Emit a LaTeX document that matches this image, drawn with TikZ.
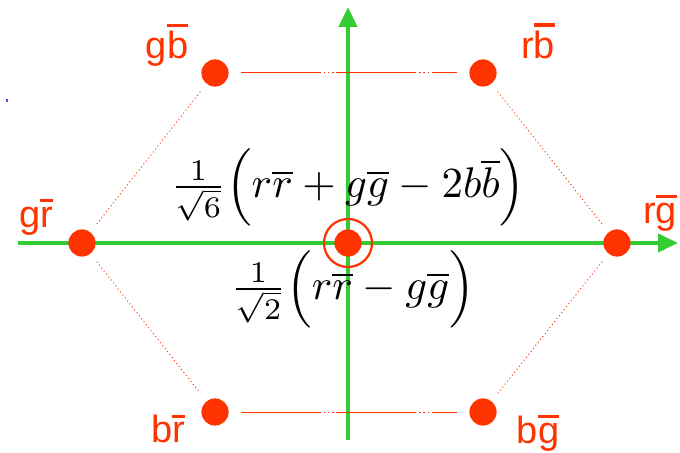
\documentclass[tikz,border=0pt]{standalone}
\usepackage{amsmath}
\usepackage{fontspec}
\setmainfont{Liberation Sans}
\usetikzlibrary{arrows.meta,calc,positioning}
\definecolor{quarkred}{RGB}{255,51,0}
\definecolor{axisgreen}{RGB}{51,204,51}
\newcommand{\ab}[1]{\vbox{\hrule height 2.4pt\kern 3pt\hbox{#1}}}

\begin{document}
\begin{tikzpicture}[
  dot/.style={circle, fill=quarkred, inner sep=0pt, minimum width=0.68cm, minimum height=0.52cm},
  lbl/.style={text=quarkred, font=\fontsize{27}{30}\selectfont, inner sep=0pt},
  axis/.style={draw=axisgreen, line width=2.8pt, -{Triangle[length=0.5cm, width=0.45cm]}},
  side/.style={draw=quarkred, line width=0.7pt, dotted, shorten >=0.25cm, shorten <=0.25cm},
  flat/.style={draw=quarkred, line width=0.7pt, dash pattern=on 2cm off 2pt on 1pt off 2pt on 1pt off 2pt on 1pt off 2pt, shorten >=0.3cm, shorten <=0.3cm},
  formula/.style={scale=3.05, transform shape, inner sep=0pt}
]
\useasboundingbox (0,0) rectangle (17,11.325);
% axes
\coordinate (xl) at (0.45,5.25);
\coordinate (xr) at (16.95,5.25);
\coordinate (yb) at (8.7,0.325);
\coordinate (yt) at (8.7,11.15);
\draw[axis] (xl) -- (xr);
\draw[axis] (yb) -- (yt);
% the six outer states and the centre
\node[dot] (c) at (8.7,5.25) {};
\node[draw=quarkred, circle, line width=1.6pt, minimum size=1.2cm] (ring) at (c) {};
\node[dot] (gr) at (2.05,5.25) {};
\node[dot] (rg) at (15.425,5.25) {};
\node[dot] (gb) at (5.375,9.5) {};
\node[dot] (rb) at (12.075,9.5) {};
\node[dot] (br) at (5.375,1.025) {};
\node[dot] (bg) at (12.075,1.025) {};
\draw[flat] (gb) -- (rb);
\draw[flat] (br) -- (bg);
\draw[side] (gb) -- (gr);
\draw[side] (gr) -- (br);
\draw[side] (rb) -- (rg);
\draw[side] (rg) -- (bg);
% labels
\node[lbl] (lgb) at (4.175,10.2) {g\ab{b}};
\node[lbl] (lrb) at (13.45,10.3) {r\ab{b}};
\node[lbl] (lgr) at (0.9,5.9) {g\ab{r}};
\node[lbl] (lrg) at (16.5,6.0) {r\ab{g}};
\node[lbl] (lbr) at (4.2,0.6) {b\ab{r}};
\node[lbl] (lbg) at (13.45,0.5) {b\ab{g}};
\node[formula] (top) at (8.7,6.65)
  {$\tfrac{1}{\sqrt{6}}\Big(r\overline{r}+g\overline{g}-2b\overline{b}\Big)$};
\node[formula] (bot) at (8.82,4.1)
  {$\tfrac{1}{\sqrt{2}}\Big(r\overline{r}-g\overline{g}\Big)$};
\fill[blue!70] (0.15,8.78) rectangle (0.2,8.86);
\end{tikzpicture}
\end{document}
